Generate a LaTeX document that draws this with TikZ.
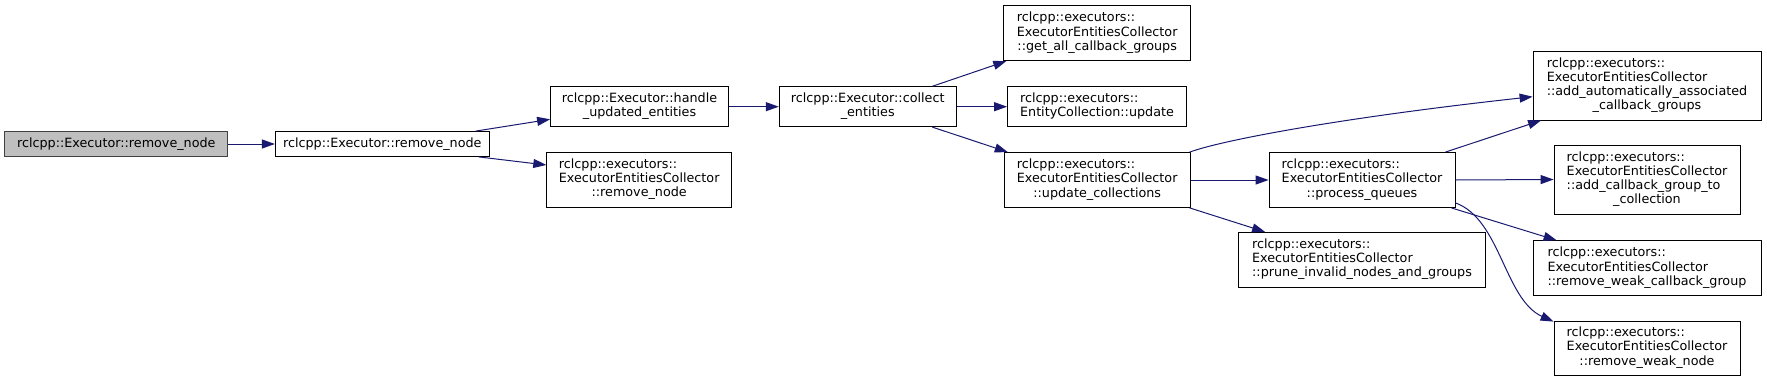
\documentclass[tikz,border=0pt]{standalone}
\usepackage{fontspec}
\setmainfont{DejaVu Sans}
\usetikzlibrary{arrows.meta}
\definecolor{edgeblue}{HTML}{191970}
\definecolor{rootgrey}{HTML}{BFBFBF}
\newcommand{\fnfont}{\fontsize{12.75pt}{14.2pt}\selectfont}
\newcommand{\fnlabel}[2]{\begin{tabular}{@{}l@{}}#1\\\multicolumn{1}{@{}c@{}}{#2}\end{tabular}}

\begin{document}
\begin{tikzpicture}[
  x=1pt, y=-1pt,
  every node/.style={draw,fill=white,line width=0.8pt,inner sep=0pt,font=\fnfont},
  call/.style={draw=edgeblue,line width=1pt,-{Triangle[length=13pt,width=9pt]}}
]
  \useasboundingbox (0,0) rectangle (1767,381);
  \node[fill=rootgrey,draw=black!75,minimum width=223pt,minimum height=25pt] (root) at (116.3,144) {rclcpp::Executor::remove\_node};
  \node[minimum width=214pt,minimum height=25pt] (removenode) at (382.3,144) {rclcpp::Executor::remove\_node};
  \node[minimum width=178pt,minimum height=40pt] (handle) at (639.5,106.7) {\fnlabel{rclcpp::Executor::handle}{\_updated\_entities}};
  \node[minimum width=185pt,minimum height=55pt] (collectorremove) at (639.2,179.8) {\fnlabel{rclcpp::executors::\\ExecutorEntitiesCollector}{::remove\_node}};
  \node[minimum width=177pt,minimum height=40pt] (collect) at (867.7,106.7) {\fnlabel{rclcpp::Executor::collect}{\_entities}};
  \node[minimum width=187pt,minimum height=55pt] (getall) at (1097.2,33.2) {\fnlabel{rclcpp::executors::\\ExecutorEntitiesCollector}{::get\_all\_callback\_groups}};
  \node[minimum width=179pt,minimum height=40pt] (update) at (1097,106.7) {\fnlabel{rclcpp::executors::}{EntityCollection::update}};
  \node[minimum width=186pt,minimum height=55pt] (updatecoll) at (1097.2,180) {\fnlabel{rclcpp::executors::\\ExecutorEntitiesCollector}{::update\_collections}};
  \node[minimum width=186pt,minimum height=55pt] (process) at (1362,180) {\fnlabel{rclcpp::executors::\\ExecutorEntitiesCollector}{::process\_queues}};
  \node[minimum width=247pt,minimum height=55pt] (prune) at (1362,259.8) {\fnlabel{rclcpp::executors::\\ExecutorEntitiesCollector}{::prune\_invalid\_nodes\_and\_groups}};
  \node[minimum width=228pt,minimum height=69pt] (addauto) at (1647,85.5) {\fnlabel{rclcpp::executors::\\ExecutorEntitiesCollector\\::add\_automatically\_associated}{\_callback\_groups}};
  \node[minimum width=186pt,minimum height=69pt] (addgroup) at (1647,179.5) {\fnlabel{rclcpp::executors::\\ExecutorEntitiesCollector\\::add\_callback\_group\_to}{\_collection}};
  \node[minimum width=228pt,minimum height=55pt] (weakgroup) at (1647,268.2) {\fnlabel{rclcpp::executors::\\ExecutorEntitiesCollector}{::remove\_weak\_callback\_group}};
  \node[minimum width=186pt,minimum height=54pt] (weaknode) at (1647,348) {\fnlabel{rclcpp::executors::\\ExecutorEntitiesCollector}{::remove\_weak\_node}};

  \draw[call] (root) -- (removenode);
  \draw[call] ([xshift=-14pt]removenode.north east) -- ([yshift=-12.6pt]handle.west);
  \draw[call] ([xshift=-11pt]removenode.south east) -- ([yshift=14.8pt]collectorremove.west);
  \draw[call] (handle) -- (collect);
  \draw[call] ([xshift=-24.3pt]collect.north east) -- ([xshift=3pt]getall.south west);
  \draw[call] (collect) -- (update);
  \draw[call] ([xshift=-24.3pt]collect.south east) -- ([xshift=4pt]updatecoll.north west);
  \draw[call] ([xshift=-1pt]updatecoll.north east) .. controls +(36,-13) and +(-183,20) .. ([yshift=-11.2pt]addauto.west);
  \draw[call] (updatecoll) -- (process);
  \draw[call] ([xshift=-1pt]updatecoll.south east) -- ([xshift=27pt]prune.north west);
  \draw[call] ([xshift=-10pt]process.north east) -- ([xshift=8.5pt]addauto.south west);
  \draw[call] (process.east) -- (addgroup.west);
  \draw[call] ([xshift=-4pt]process.south east) -- ([xshift=24pt]weakgroup.north west);
  \draw[call] ([yshift=5pt]process.south east) .. controls +(45,16) and +(-49,-22) .. ([yshift=-1pt]weaknode.north west);
\end{tikzpicture}
\end{document}
